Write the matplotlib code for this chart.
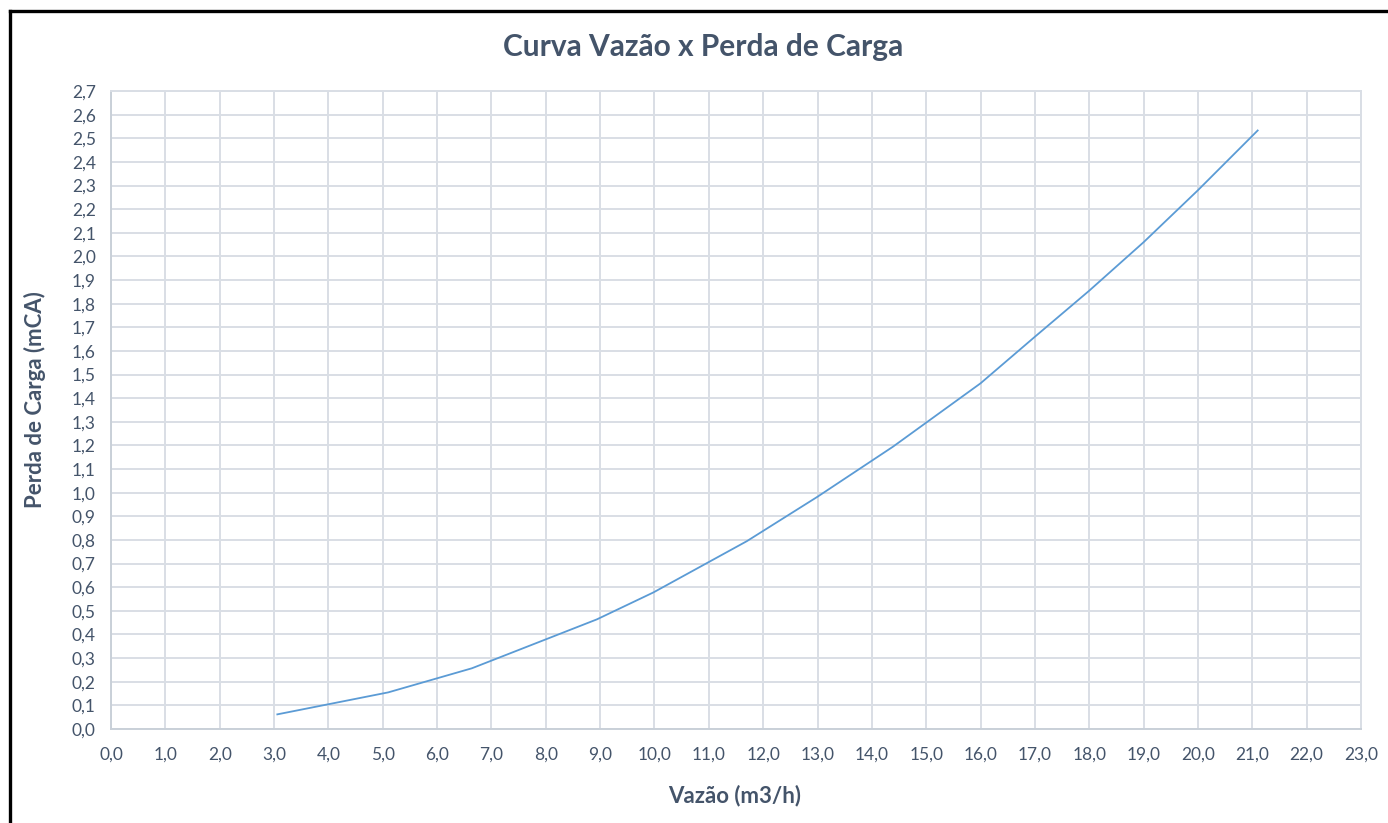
import matplotlib
matplotlib.use("Agg")
import matplotlib.pyplot as plt
from matplotlib.lines import Line2D
import numpy as np

# Flow rate (m3/h) vs head loss (mCA)
vazao = [3.06, 5.10, 6.64, 8.94, 9.98, 11.70, 13.00, 14.39, 16.00, 17.00, 18.00, 19.00, 20.00, 21.10]
perda = [0.062, 0.155, 0.257, 0.464, 0.578, 0.795, 0.983, 1.195, 1.463, 1.660, 1.855, 2.060, 2.280, 2.533]

x_ticks = np.arange(0, 24, 1)
y_ticks = np.round(np.arange(0, 2.71, 0.1), 1)

TEXT = "#44546A"
GRID = "#D9DEE5"
LINE = "#5B9BD5"

plt.rcParams["font.family"] = ["Lato", "DejaVu Sans"]

fig = plt.figure(figsize=(13.88, 8.23), dpi=100)
ax = fig.add_axes([0.0800, 0.1142, 0.9005, 0.7752])

ax.plot(vazao, perda, color=LINE, linewidth=1.3)

ax.set_xlim(0, 23)
ax.set_ylim(0, 2.7)
ax.set_xticks(x_ticks)
ax.set_yticks(y_ticks)
ax.set_xticklabels([f"{v:.1f}".replace(".", ",") for v in x_ticks])
ax.set_yticklabels([f"{v:.1f}".replace(".", ",") for v in y_ticks])
ax.tick_params(axis="both", length=0, labelsize=12.5, labelcolor=TEXT)
ax.tick_params(axis="x", pad=13)
ax.tick_params(axis="y", pad=11)

ax.grid(True, color=GRID, linewidth=1.4)
ax.set_axisbelow(True)
for side in ["top", "right"]:
    ax.spines[side].set_color(GRID)
    ax.spines[side].set_linewidth(1.4)
for side in ["left", "bottom"]:
    ax.spines[side].set_color("#C9D0D8")
    ax.spines[side].set_linewidth(1.4)

fig.text(0.5065, 0.943, "Curva Vazão x Perda de Carga", ha="center", va="center",
         fontsize=21.5, fontweight="bold", color=TEXT)
fig.text(0.5295, 0.034, "Vazão (m3/h)", ha="center", va="center",
         fontsize=16, fontweight="bold", color=TEXT)
fig.text(0.0255, 0.515, "Perda de Carga (mCA)", ha="center", va="center",
         rotation=90, fontsize=16, fontweight="bold", color=TEXT)

# outer frame (top and left edges)
fig.add_artist(Line2D([0.0072, 1.0], [0.9866, 0.9866], transform=fig.transFigure,
                      color="black", linewidth=2.4))
fig.add_artist(Line2D([0.0072, 0.0072], [0.0, 0.9866], transform=fig.transFigure,
                      color="black", linewidth=2.4))

fig.savefig("out.png", dpi=100, facecolor="white")
